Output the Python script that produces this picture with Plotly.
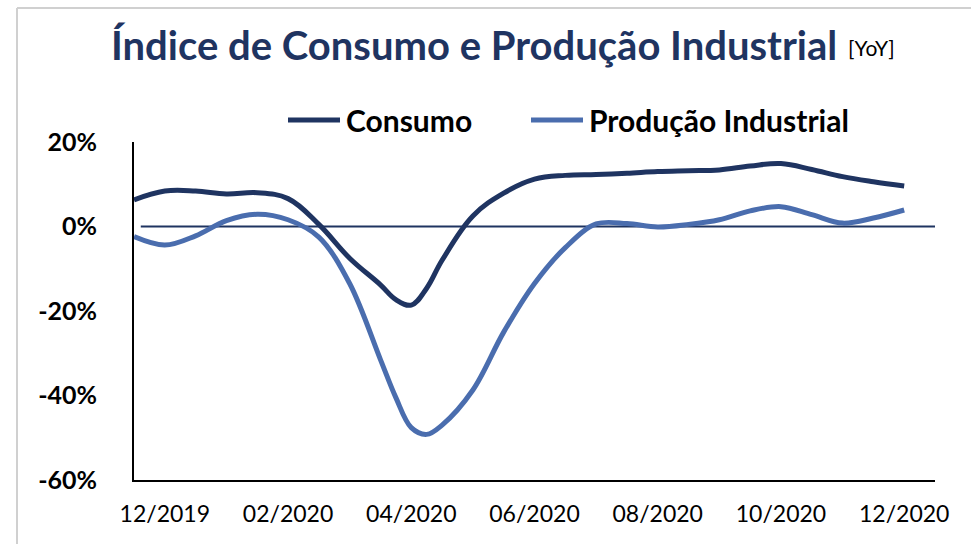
import plotly.graph_objects as go

# Monthly positions: 0 = 12/2019 ... 12 = 12/2020 (half-month steps,
# quarter-month steps around the April 2020 trough)
months = [-0.5, 0, 0.5, 1, 1.5, 2, 2.5, 3, 3.5, 3.75, 4, 4.25, 4.5, 5, 5.5,
          6, 6.5, 7, 7.5, 8, 8.5, 9, 9.5, 10, 10.5, 11, 11.5, 12]

consumo = [6.3, 8.4, 8.4, 7.7, 8.0, 6.6, 0.5, -7.5, -13.8, -17.3, -18.6,
           -14.6, -8.0, 2.5, 7.9, 11.2, 12.1, 12.3, 12.6, 13.0, 13.2, 13.4,
           14.3, 14.9, 13.5, 11.8, 10.6, 9.6]

producao = [-2.4, -4.4, -2.2, 1.4, 2.9, 1.6, -2.5, -13.5, -31.5, -40.5,
            -47.6, -49.2, -47.0, -38.7, -25.0, -13.5, -5.0, 0.6, 0.7, -0.1,
            0.5, 1.6, 3.7, 4.7, 2.8, 0.8, 2.0, 3.9]

tick_pos = [0, 2, 4, 6, 8, 10, 12]
tick_labels = ["12/2019", "02/2020", "04/2020", "06/2020", "08/2020",
               "10/2020", "12/2020"]
y_ticks = [20, 0, -20, -40, -60]
y_labels = ["<b>20%</b>", "<b>0%</b>", "<b>-20%</b>", "<b>-40%</b>",
            "<b>-60%</b>"]

NAVY = "#1F3461"
BLUE = "#4A6DAE"
FONT = "Lato"

W, H = 971, 544
L, R, T, B = 134, 36, 142, 64
PW, PH = W - L - R, H - T - B


def px(x):
    return (x - L) / PW


def py(y):
    return (H - B - y) / PH


fig = go.Figure()

fig.add_trace(go.Scatter(
    x=months, y=consumo, mode="lines", name="Consumo",
    line=dict(color=NAVY, width=5, shape="spline", smoothing=1.1),
    showlegend=False))
fig.add_trace(go.Scatter(
    x=months, y=producao, mode="lines", name="Produção Industrial",
    line=dict(color=BLUE, width=5, shape="spline", smoothing=1.0),
    showlegend=False))

shapes = [
    # zero reference line
    dict(type="line", xref="x", yref="y", x0=-0.39, x1=12.5, y0=0, y1=0,
         line=dict(color=NAVY, width=2), layer="below"),
    # outer frame (top and left edges)
    dict(type="line", xref="paper", yref="paper", x0=px(17), x1=px(971),
         y0=py(8), y1=py(8), line=dict(color="#D0D0D0", width=2)),
    dict(type="line", xref="paper", yref="paper", x0=px(17), x1=px(17),
         y0=py(8), y1=py(544), line=dict(color="#D0D0D0", width=2)),
    # legend swatches
    dict(type="line", xref="paper", yref="paper", x0=px(288), x1=px(340),
         y0=py(120), y1=py(120), line=dict(color=NAVY, width=5)),
    dict(type="line", xref="paper", yref="paper", x0=px(531), x1=px(583),
         y0=py(120), y1=py(120), line=dict(color=BLUE, width=5)),
]

annotations = [
    dict(text="<b>Índice de Consumo e Produção Industrial</b>",
         xref="paper", yref="paper", x=px(474), y=py(45),
         xanchor="center", yanchor="middle", showarrow=False,
         font=dict(family=FONT, size=40, color=NAVY)),
    dict(text="[YoY]", xref="paper", yref="paper", x=px(846), y=py(48),
         xanchor="left", yanchor="middle", showarrow=False,
         font=dict(family=FONT, size=21, color="#000000")),
    dict(text="<b>Consumo</b>", xref="paper", yref="paper", x=px(344),
         y=py(120), xanchor="left", yanchor="middle", showarrow=False,
         font=dict(family=FONT, size=30, color="#000000")),
    dict(text="<b>Produção Industrial</b>", xref="paper", yref="paper",
         x=px(587), y=py(120), xanchor="left", yanchor="middle",
         showarrow=False, font=dict(family=FONT, size=30, color="#000000")),
]

fig.update_layout(
    width=W, height=H,
    margin=dict(l=L, r=R, t=T, b=B, pad=0),
    paper_bgcolor="white", plot_bgcolor="white",
    shapes=shapes, annotations=annotations,
    xaxis=dict(range=[-0.5, 12.5], tickvals=tick_pos, ticktext=tick_labels,
               showgrid=False, zeroline=False, showline=True,
               linecolor="#000000", linewidth=2, ticks="outside",
               ticklen=12, tickcolor="rgba(0,0,0,0)",
               tickfont=dict(family=FONT, size=23, color="#000000")),
    yaxis=dict(range=[-60, 20], tickvals=y_ticks, ticktext=y_labels,
               showgrid=False, zeroline=False, showline=True,
               linecolor="#000000", linewidth=2, ticks="outside",
               ticklen=30, tickcolor="rgba(0,0,0,0)",
               tickfont=dict(family=FONT, size=25, color="#000000")),
    font=dict(family=FONT),
)

fig.write_html("out.html")
